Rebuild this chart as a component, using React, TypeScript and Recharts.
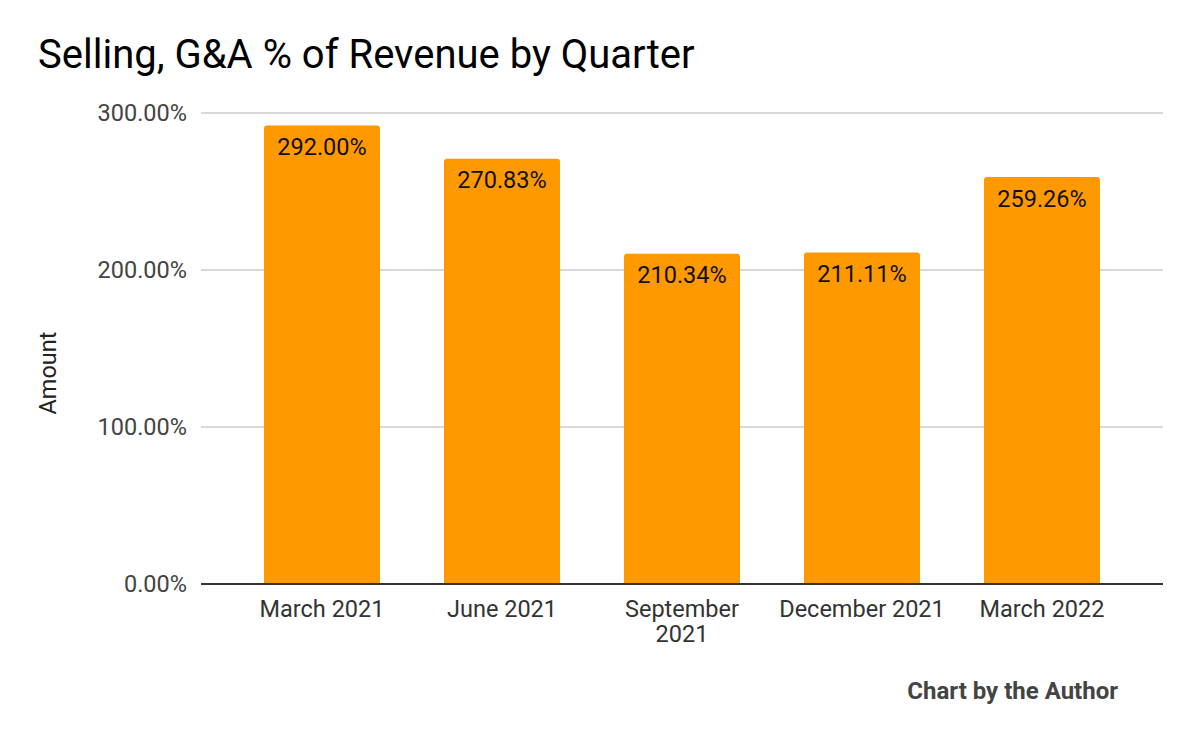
import { BarChart, Bar, XAxis, YAxis, CartesianGrid, LabelList } from 'recharts'

const quarters = ['March 2021', 'June 2021', 'September 2021', 'December 2021', 'March 2022']
const sgaPct = [292.0, 270.83, 210.34, 211.11, 259.26]
const yTicks = [0, 100, 200, 300]

const data = quarters.map((q, i) => ({ quarter: q, value: sgaPct[i] }))

const FONT = 'Roboto, "Noto Sans", sans-serif'

function QuarterTick({ x, y, payload }: any) {
  const label: string = payload.value
  const lines = label.length > 13 ? label.split(' ') : [label]
  return (
    <text x={x} y={y} textAnchor="middle" fill="#333" fontSize={23.5} fontFamily={FONT}>
      {lines.map((l, i) => (
        <tspan key={i} x={x} dy={i === 0 ? 25 : 25}>{l}</tspan>
      ))}
    </text>
  )
}

export default function App() {
  return (
    <div style={{ position: 'absolute', left: 0, top: 0, width: 1200, height: 742, background: '#fff', fontFamily: FONT }}>
      <div style={{ position: 'absolute', left: 38, top: 30, fontSize: 40, color: '#000', whiteSpace: 'nowrap', lineHeight: '50px' }}>
        Selling, G&amp;A % of Revenue by Quarter
      </div>
      <div style={{
        position: 'absolute', left: 48, top: 373, transform: 'translate(-50%, -50%) rotate(-90deg)',
        fontSize: 23.5, color: '#222', whiteSpace: 'nowrap'
      }}>
        Amount
      </div>
      <div style={{ position: 'absolute', right: 82, top: 676, fontSize: 24, fontWeight: 700, color: '#444', lineHeight: '30px' }}>
        Chart by the Author
      </div>
      <BarChart width={1200} height={742} data={data}
        margin={{ top: 113, right: 37, bottom: 0, left: 0 }}>
        <CartesianGrid horizontal vertical={false} stroke="#ccc" strokeWidth={1.5} />
        <XAxis dataKey="quarter" tick={<QuarterTick />} tickLine={false} interval={0}
          axisLine={{ stroke: '#333', strokeWidth: 2 }} padding={{ left: 31, right: 31 }} height={158} />
        <YAxis width={201} domain={[0, 300]} ticks={yTicks} tickLine={false} axisLine={false}
          tickSize={0} tickMargin={14} tickFormatter={(v: number) => `${v.toFixed(2)}%`}
          tick={{ fill: '#444', fontSize: 23.5, fontFamily: FONT }} />
        <Bar dataKey="value" fill="#ff9900" barSize={116} radius={[3, 3, 0, 0]} isAnimationActive={false}>
          <LabelList dataKey="value" position="insideTop" offset={13}
            formatter={(v: any) => `${Number(v).toFixed(2)}%`}
            style={{ fill: '#111', fontSize: 23.5, fontFamily: FONT }} />
        </Bar>
      </BarChart>
    </div>
  )
}
